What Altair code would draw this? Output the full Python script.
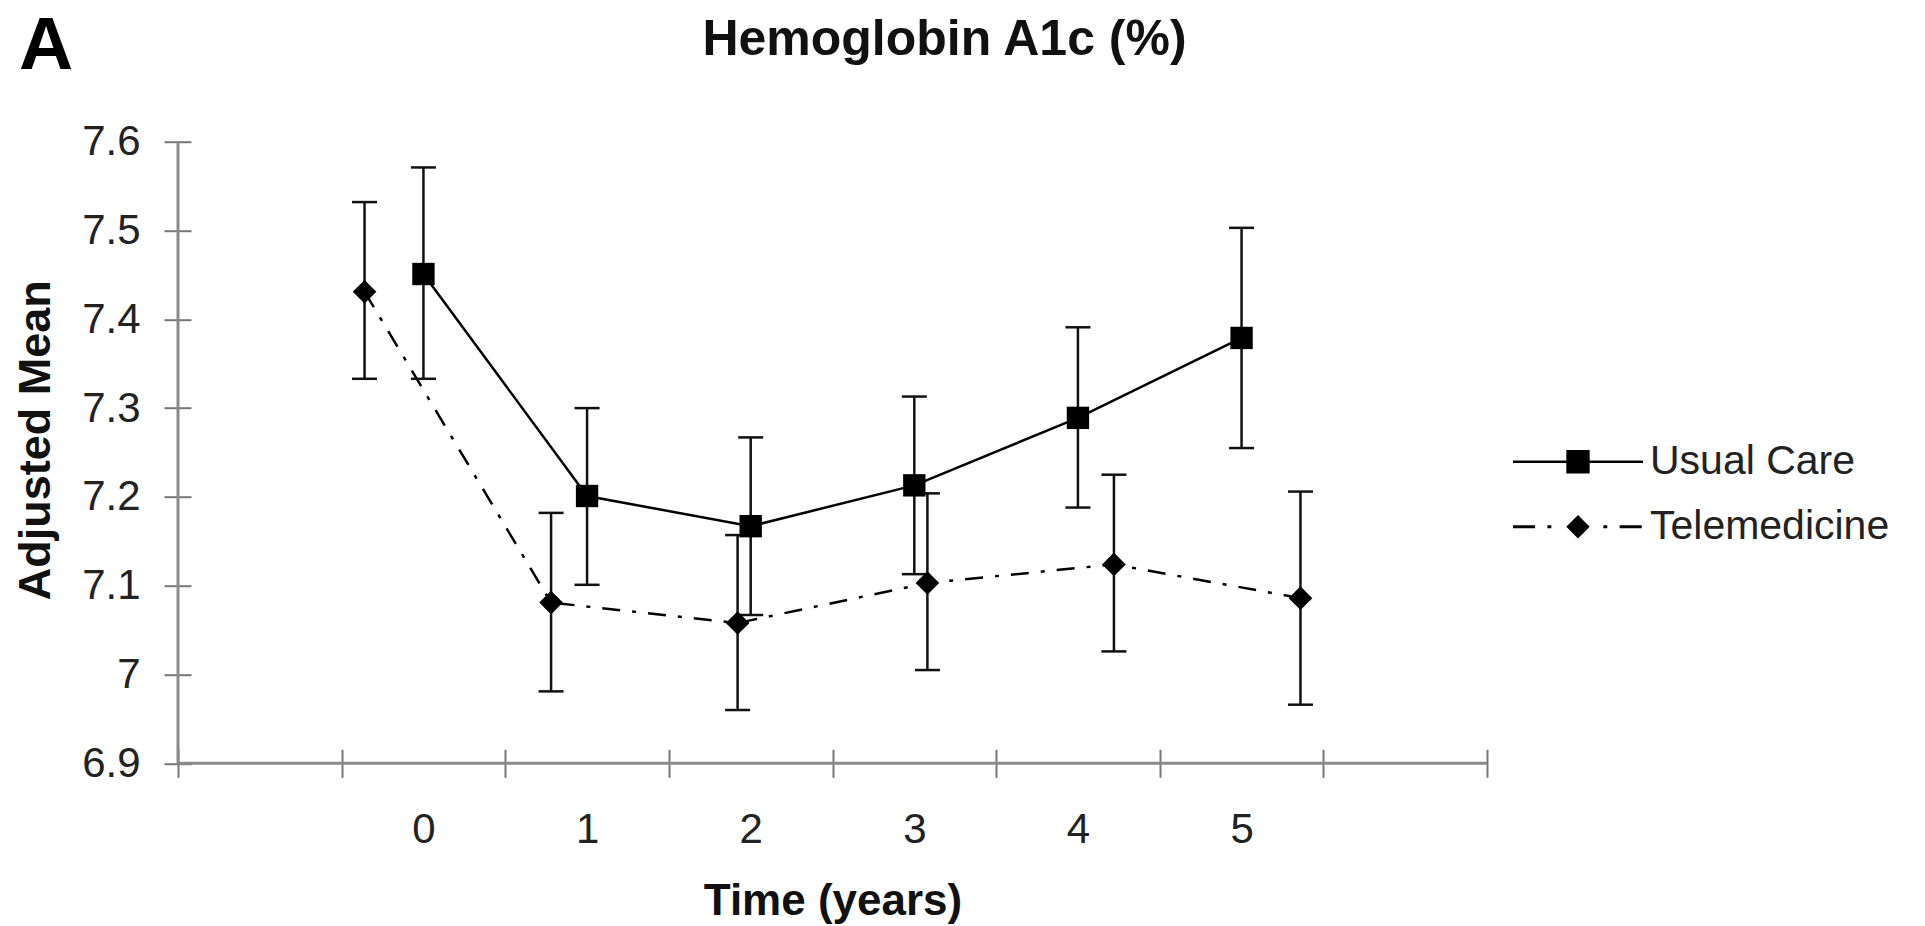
import altair as alt
import pandas as pd

# ---- data ----
SERIES = ["Usual Care", "Telemedicine"]
YEARS = [0, 1, 2, 3, 4, 5]
UC_X = [0.0, 1.0, 2.0, 3.0, 4.0, 5.0]
UC_MEAN = [7.451, 7.201, 7.167, 7.213, 7.289, 7.379]
UC_LO = [7.333, 7.101, 7.067, 7.113, 7.188, 7.255]
UC_HI = [7.571, 7.300, 7.267, 7.313, 7.391, 7.503]
TELE_X = [-0.36, 0.78, 1.92, 3.08, 4.22, 5.36]
TELE_MEAN = [7.431, 7.081, 7.058, 7.103, 7.124, 7.086]
TELE_LO = [7.333, 6.981, 6.960, 7.005, 7.026, 6.966]
TELE_HI = [7.532, 7.182, 7.157, 7.204, 7.225, 7.206]
Y_TICKS = [6.9, 7.0, 7.1, 7.2, 7.3, 7.4, 7.5, 7.6]
X_MIN, X_MAX = -1.5, 6.5
Y_MIN, Y_MAX = 6.9, 7.6

FONT = "Liberation Sans"
X_TICKS = [X_MIN] + [y - 0.5 for y in YEARS] + [YEARS[-1] + 0.5, X_MAX]

uc = pd.DataFrame({"series": SERIES[0], "x": UC_X, "mean": UC_MEAN, "lo": UC_LO, "hi": UC_HI})
te = pd.DataFrame({"series": SERIES[1], "x": TELE_X, "mean": TELE_MEAN, "lo": TELE_LO, "hi": TELE_HI})
both = pd.concat([uc, te], ignore_index=True)

W, H = 1309, 621.6
unit = W / (X_MAX - X_MIN)

xscale = alt.Scale(domain=[X_MIN, X_MAX], nice=False, zero=False)
yscale = alt.Scale(domain=[Y_MIN, Y_MAX], nice=False, zero=False)

lo_label, hi_label = YEARS[0] - 0.5, YEARS[-1] - 0.5
x_axis = alt.Axis(
    values=X_TICKS, domain=False, grid=False, offset=-14, tickSize=28, tickWidth=2,
    tickColor="#777777",
    labelExpr=f"datum.value >= {lo_label} && datum.value <= {hi_label} ? format(datum.value + 0.5, 'd') : ''",
    labelOffset=unit / 2, labelPadding=65, labelBaseline="alphabetic", labelOverlap=False,
    labelFlush=False, labelFontSize=42, labelFont=FONT, labelColor="#222222",
    title="Time (years)", titleFont=FONT, titleFontSize=44, titleFontWeight="bold",
    titleColor="#111111", titleX=W / 2, titleY=165, titleAlign="center",
    titleBaseline="alphabetic",
)
y_axis = alt.Axis(
    values=Y_TICKS, format="~g", domain=False, grid=False, offset=-13, tickSize=27,
    tickWidth=2, tickColor="#777777", labelPadding=24, labelFontSize=42, labelFont=FONT,
    labelColor="#222222",
    title="Adjusted Mean", titleFont=FONT, titleFontSize=45, titleFontWeight="bold",
    titleColor="#111111", titleAngle=270, titleX=-142, titleY=298, titleAlign="center",
    titleBaseline="alphabetic",
)

frame = pd.DataFrame({"k": [0]})
y_domain = alt.Chart(frame).mark_rule(color="#8a8a8a", strokeWidth=3).encode(
    x=alt.X(datum=X_MIN, type="quantitative", scale=xscale, axis=x_axis),
    y=alt.Y(datum=Y_MIN, type="quantitative", scale=yscale, axis=y_axis),
    y2=alt.datum(Y_MAX),
)
x_domain = alt.Chart(frame).mark_rule(color="#8a8a8a", strokeWidth=3).encode(
    x=alt.datum(X_MIN, type="quantitative"),
    x2=alt.datum(X_MAX),
    y=alt.datum(Y_MIN, type="quantitative"),
)

uc_line = alt.Chart(uc).mark_line(color="black", strokeWidth=2.5).encode(
    x="x:Q", y="mean:Q")
te_line = alt.Chart(te).mark_line(color="black", strokeWidth=2.5,
                                  strokeDash=[18, 12, 4, 12]).encode(x="x:Q", y="mean:Q")

bars = alt.Chart(both).mark_rule(color="#111111", strokeWidth=2.5).encode(
    x="x:Q", y="lo:Q", y2="hi:Q")
caps_lo = alt.Chart(both).mark_tick(color="#111111", orient="horizontal", size=25,
                                    thickness=2.5, opacity=1).encode(x="x:Q", y="lo:Q")
caps_hi = alt.Chart(both).mark_tick(color="#111111", orient="horizontal", size=25,
                                    thickness=2.5, opacity=1).encode(x="x:Q", y="hi:Q")

uc_pts = alt.Chart(uc).mark_point(shape="square", filled=True, size=500, color="black",
                                  opacity=1).encode(x="x:Q", y="mean:Q")
te_pts = alt.Chart(te).mark_point(shape="diamond", filled=True, size=560, color="black",
                                  opacity=1).encode(x="x:Q", y="mean:Q")

UC_PATH = ("M-1,-0.02H-0.18V-0.18H0.18V-0.02H1V0.02H0.18V0.18H-0.18V0.02H-1Z")
TE_PATH = ("M-1,-0.023H-0.66V0.023H-1Z "
           "M-0.47,-0.023H-0.41V0.023H-0.47Z "
           "M-0.18,0L0,-0.18L0.18,0L0,0.18Z "
           "M0.39,-0.023H0.45V0.023H0.39Z "
           "M0.64,-0.023H0.98V0.023H0.64Z")

legend_df = pd.DataFrame({"series": SERIES})
legend_layer = alt.Chart(legend_df).transform_filter("false").mark_point(
    filled=True, color="black", strokeWidth=0, opacity=1
).encode(
    shape=alt.Shape(
        "series:N",
        scale=alt.Scale(domain=SERIES, range=[UC_PATH, TE_PATH]),
        legend=alt.Legend(
            title=None, orient="none", legendX=1335, legendY=297.5, padding=0,
            symbolSize=16900, symbolStrokeWidth=0, clipHeight=45, rowPadding=20,
            labelFontSize=41, labelFont=FONT, labelColor="#222222", labelOffset=7,
            labelLimit=400,
        ),
    )
)

panel = alt.Chart(pd.DataFrame({"t": ["A"]})).mark_text(
    font=FONT, fontSize=75, fontWeight="bold", align="left", baseline="alphabetic",
    color="black"
).encode(text="t:N", x=alt.value(-159), y=alt.value(-72.7))

chart = alt.layer(
    y_domain, x_domain, uc_line, te_line, bars, caps_lo, caps_hi, uc_pts, te_pts,
    legend_layer, panel,
).properties(
    width=W, height=H,
    title=alt.Title("Hemoglobin A1c (%)", font=FONT, fontSize=50, fontWeight="bold",
                    color="#111111", anchor="middle", frame="group", dx=112,
                    offset=-96, baseline="alphabetic"),
    autosize=alt.AutoSizeParams(type="none"),
    padding={"left": 170, "top": 133.7, "right": 420, "bottom": 170},
    background="white",
).configure_view(stroke="transparent")

chart.save("out.html", embed_options={"renderer": "svg", "actions": False})
